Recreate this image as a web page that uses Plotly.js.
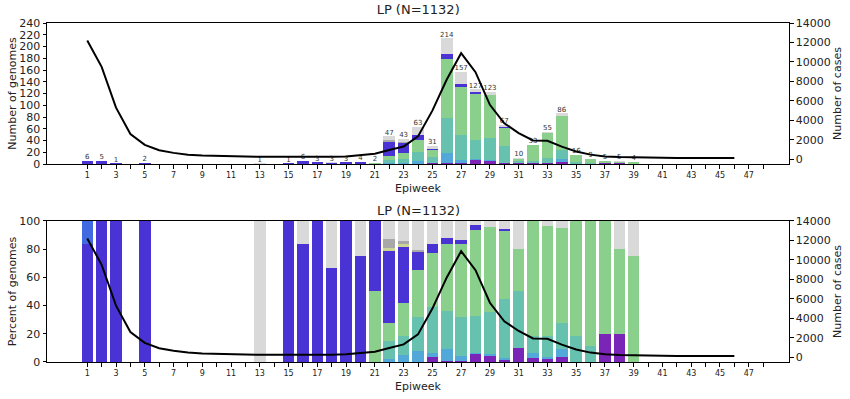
<!DOCTYPE html>
<html>
<head>
<meta charset="utf-8">
<script src="https://cdn.plot.ly/plotly-3.0.1.min.js"></script>
<style>html,body{margin:0;padding:0;background:#fff;}#chart{width:850px;height:399px;}</style>
</head>
<body>
<div id="chart"></div>
<script>
// ---- data ----
const weeks = [1,2,3,4,5,6,7,8,9,10,11,12,13,14,15,16,17,18,19,20,21,22,23,24,25,26,27,28,29,30,31,32,33,34,35,36,37,38,39];
// genome counts per lineage group (weeks 1..39)
const purple    = [0,0,0,0,0,0,0,0,0,0,0,0,0,0,0,0,0,0,0,0,0,0,0,0,1,2,1,7,5,1,1,1,1,3,0,0,1,1,0];
const lightBlue = [0,0,0,0,0,0,0,0,0,0,0,0,0,0,0,0,0,0,0,0,0,1,2,5,1,17,6,1,2,1,0,1,1,5,0,0,0,0,0];
const teal      = [0,0,0,0,0,0,0,0,0,0,0,0,0,0,0,0,0,0,0,0,0,6,6,15,10,59,43,33,37,28,4,4,8,16,3,1,0,0,0];
const green     = [0,0,0,0,0,0,0,0,0,0,0,0,0,0,0,0,0,0,0,0,1,6,10,21,12,101,81,78,74,32,3,27,43,58,13,8,4,3,3];
const indigo    = [5,5,1,0,2,0,0,0,0,0,0,0,0,0,1,5,3,2,3,3,1,24,17,8,2,9,5,4,0,1,0,0,0,0,0,0,0,0,0];
const royalBlue = [1,0,0,0,0,0,0,0,0,0,0,0,0,0,0,0,0,0,0,0,0,0,0,0,0,0,0,0,0,0,0,0,0,0,0,0,0,0,0];
const olive     = [0,0,0,0,0,0,0,0,0,0,0,0,0,0,0,0,0,0,0,0,0,1,1,0,0,0,0,0,0,0,0,0,0,0,0,0,0,0,0];
const darkGray  = [0,0,0,0,0,0,0,0,0,0,0,0,0,0,0,0,0,0,0,0,0,3,1,1,0,0,0,0,0,0,0,0,0,0,0,0,0,0,0];
const lightGray = [0,0,0,0,0,0,0,0,0,0,0,0,1,0,0,1,0,1,0,1,0,6,6,13,5,26,21,4,5,4,2,0,2,4,0,0,0,1,1];

// reported cases per epiweek (weeks 1..46)
const caseWeeks = [1,2,3,4,5,6,7,8,9,10,11,12,13,14,15,16,17,18,19,20,21,22,23,24,25,26,27,28,29,30,31,32,33,34,35,36,37,38,39,40,41,42,43,44,45,46];
const cases = [12200,9500,5300,2600,1480,930,660,480,380,330,300,280,260,250,250,250,240,270,300,410,570,950,1320,2350,5000,8200,10900,8950,5600,3700,2700,1940,1900,1300,800,480,300,240,200,160,150,140,130,130,130,130];

const xTickVals = [1,2,3,4,5,6,7,8,9,10,11,12,13,14,15,16,17,18,19,20,21,22,23,24,25,26,27,28,29,30,31,32,33,34,35,36,37,38,39,40,41,42,43,44,45,46,47,48];
const xTickText = ['1','','3','','5','','7','','9','','11','','13','','15','','17','','19','','21','','23','','25','','27','','29','','31','','33','','35','','37','','39','','41','','43','','45','','47',''];

const groups = [
  {name:'purple',     y:purple,    color:'#7b24b8'},
  {name:'light blue', y:lightBlue, color:'#52a8d8'},
  {name:'teal',       y:teal,      color:'#66c2ae'},
  {name:'green',      y:green,     color:'#8ad08c'},
  {name:'indigo',     y:indigo,    color:'#4a33d4'},
  {name:'royal blue', y:royalBlue, color:'#4169e1'},
  {name:'olive',      y:olive,     color:'#ccd596'},
  {name:'dark gray',  y:darkGray,  color:'#a8a8a8'},
  {name:'light gray', y:lightGray, color:'#d9d9d9'}
];

const totals = weeks.map((w,i) => groups.reduce((s,g) => s + g.y[i], 0));
const N = totals.reduce((a,b)=>a+b,0);

const traces = [];
groups.forEach(g => {
  traces.push({type:'bar', x:weeks, y:g.y, xaxis:'x2', yaxis:'y3', marker:{color:g.color, line:{width:0}}, name:g.name, hoverinfo:'skip'});
  traces.push({type:'bar', x:weeks, y:g.y.map((v,i)=> totals[i] ? v/totals[i]*100 : 0), xaxis:'x', yaxis:'y', marker:{color:g.color, line:{width:0}}, name:g.name, hoverinfo:'skip'});
});
// count labels above bars
const lw = [], lt = [], lv = [];
weeks.forEach((w,i)=>{ if(totals[i]>0){ lw.push(w); lt.push(totals[i]); lv.push(String(totals[i])); } });
traces.push({type:'scatter', mode:'text', x:lw, y:lt, text:lv, textposition:'top center', textfont:{size:7, color:'#333', family:'DejaVu Sans'}, xaxis:'x2', yaxis:'y3', hoverinfo:'skip', cliponaxis:false});
// cases lines
traces.push({type:'scatter', mode:'lines', x:caseWeeks, y:cases, xaxis:'x2', yaxis:'y4', line:{color:'#000', width:2}, hoverinfo:'skip'});
traces.push({type:'scatter', mode:'lines', x:caseWeeks, y:cases, xaxis:'x', yaxis:'y2', line:{color:'#000', width:2}, hoverinfo:'skip'});

const font = {family:'DejaVu Sans', color:'#222'};
const xBase = {range:[-1.8,49.8], tickmode:'array', tickvals:xTickVals, ticktext:xTickText, ticks:'outside', ticklen:3.5, tickwidth:1, tickcolor:'#000',
  tickfont:{size:8, family:'DejaVu Sans', color:'#222'}, showline:true, mirror:true, linecolor:'#000', linewidth:1, showgrid:false, zeroline:false,
  title:{text:'Epiweek', font:{size:11, family:'DejaVu Sans', color:'#222'}, standoff:5}};
const yLeft = (dom, rng, title, anchor) => ({domain:dom, range:rng, anchor:anchor, dtick:20, tick0:0, ticks:'outside', ticklen:3.5, tickcolor:'#000',
  tickfont:{size:11, family:'DejaVu Sans', color:'#222'}, showline:true, linecolor:'#000', linewidth:1, showgrid:false, zeroline:false,
  title:{text:title, font:{size:11, family:'DejaVu Sans', color:'#222'}, standoff:0}});
const yRight = (over, anchor) => ({overlaying:over, anchor:anchor, side:'right', range:[-485,14000], dtick:2000, tick0:0, ticks:'outside', ticklen:3.5, tickcolor:'#000',
  tickformat:'d',
  tickfont:{size:11, family:'DejaVu Sans', color:'#222'}, showline:true, linecolor:'#000', linewidth:1, showgrid:false, zeroline:false,
  title:{text:'Number of cases', font:{size:11, family:'DejaVu Sans', color:'#222'}, standoff:2}});

const layout = {
  width:850, height:399, paper_bgcolor:'#fff', plot_bgcolor:'#fff', font:font,
  margin:{l:47, r:61, t:23, b:37},
  showlegend:false, barmode:'stack', bargap:0.2,
  title:{text:'LP (N=' + N + ')', font:{size:13, family:'DejaVu Sans', color:'#222'}, x:0.492, xanchor:'center', y:0.977, yanchor:'middle'},
  xaxis: Object.assign({}, xBase, {anchor:'y', domain:[0,1]}),
  xaxis2: Object.assign({}, xBase, {anchor:'y3', domain:[0,1]}),
  yaxis: yLeft([0,0.416], [0,100], 'Percent of genomes', 'x'),
  yaxis2: yRight('y', 'x'),
  yaxis3: yLeft([0.584,1], [0,240], 'Number of genomes', 'x2'),
  yaxis4: yRight('y3', 'x2'),
  annotations:[{text:'LP (N=' + N + ')', xref:'paper', yref:'paper', x:0.5, y:0.416, yshift:1, xanchor:'center', yanchor:'bottom', showarrow:false,
    font:{size:13, family:'DejaVu Sans', color:'#222'}}]
};

Plotly.newPlot('chart', traces, layout, {staticPlot:true, displayModeBar:false});
</script>
</body>
</html>
